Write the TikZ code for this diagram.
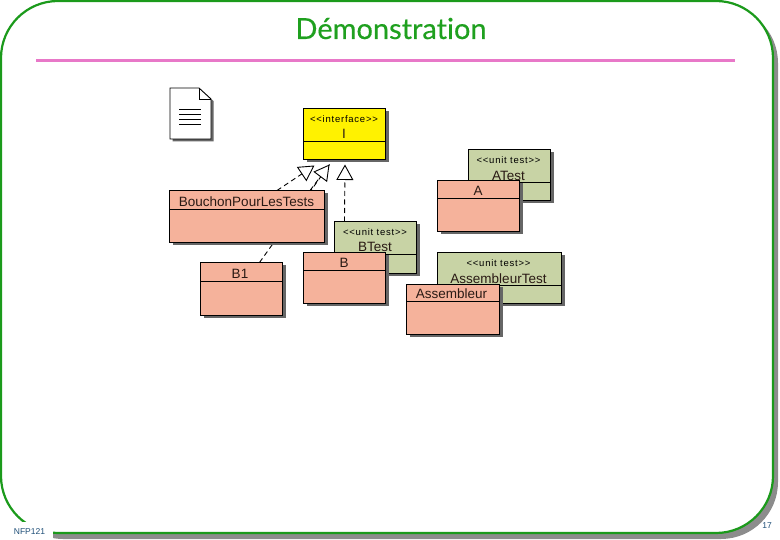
\documentclass[tikz,border=0pt]{standalone}
\usepackage{fontspec}
\setmainfont{Liberation Sans}
\newfontfamily\titlefont[Ligatures=NoCommon,FakeBold=0.35]{Lato}
\newfontfamily\stereofont[LetterSpace=8]{Liberation Sans}
\usetikzlibrary{arrows.meta}
\definecolor{framegreen}{HTML}{1B9A1B}
\definecolor{titlegreen}{HTML}{1FA01F}
\definecolor{rulepink}{HTML}{E878C8}
\definecolor{shadowgray}{HTML}{8C8C8C}
\definecolor{salmon}{HTML}{F5B29B}
\definecolor{olive}{HTML}{C8D3A5}
\definecolor{footblue}{HTML}{1F4F78}
\definecolor{inktext}{HTML}{2A1A14}
\tikzset{
  umlbox/.style={draw=black,line width=1.1pt,inner sep=0pt,outer sep=0pt},
  namelabel/.style={font=\fontsize{13.5}{13.5}\selectfont,text=inktext,inner sep=0pt,anchor=base},
  stereolabel/.style={font=\stereofont\fontsize{9.5}{9.5}\selectfont,text=black,inner sep=0pt,anchor=base},
  footlabel/.style={font=\fontsize{8.5}{9}\selectfont,text=footblue,inner sep=0pt},
  dashwire/.style={black,line width=0.9pt,dash pattern=on 5pt off 3.5pt},
  realize/.style={dashwire,
    -{Triangle[open,fill=white,length=15.5pt,width=17pt,line width=0.9pt]}},
  framepath/.style={rounded corners=57pt},
}
% #1 name, #2 x1, #3 y1, #4 x2, #5 y2, #6 fill, #7 divider y
\newcommand{\classbox}[7]{%
  \fill[black!60] ({#2+3},{#3+3}) rectangle ({#4+3},{#5+3});
  \node[umlbox,fill=#6,minimum width=#4pt-#2pt,minimum height=#5pt-#3pt] (#1) at ({(#2+#4)/2},{(#3+#5)/2}) {};
  \draw[black,line width=1pt] (#2,#7) -- (#4,#7);
}
\begin{document}
\begin{tikzpicture}[x=1pt,y=-1pt]
\useasboundingbox (0,0) rectangle (780,540);
% slide frame
\fill[shadowgray,framepath] (6,6) rectangle (778,539);
\draw[framegreen,line width=2.2pt,fill=white,framepath] (1,1) rectangle (773,533);
\fill[white] (0,522) rectangle (53,540);
\node[footlabel] (foot) at (29.5,531.5) {NFP121};
\node[footlabel] (page) at (767,526) {17};
% title
\node[font=\titlefont\fontsize{29}{29}\selectfont,text=titlegreen,inner sep=0pt,anchor=base] (title) at (391,39) {Démonstration};
\draw[rulepink,line width=3pt] (36,60.5) -- (735,60.5);
% note icon
\fill[black!60] (172.5,90.5) -- (201,90.5) -- (213.5,101) -- (213.5,141.5) -- (172.5,141.5) -- cycle;
\draw[black,line width=0.9pt,fill=white] (170,88) -- (199,88) -- (211,99) -- (211,139) -- (170,139) -- cycle;
\draw[black,line width=0.9pt] (199,88) -- (199,99) -- (211,99);
\draw[black,line width=0.8pt] (179,109.5) -- (201,109.5) (179,114.5) -- (201,114.5) (179,119.5) -- (201,119.5) (179,124.5) -- (201,124.5);
% interface
\classbox{I}{303.5}{108.5}{385.5}{159.5}{yellow}{141.5}
\node[stereolabel] (Is) at (344,122.5) {<{}<interface>{}>};
\node[namelabel] (In) at (344,138.5) {I};
\coordinate (tipA) at ([xshift=-30pt,yshift=-6pt]I.south);
\coordinate (tipB) at ([xshift=-15pt,yshift=-5pt]I.south);
\coordinate (tipC) at ([xshift=0.5pt,yshift=-5pt]I.south);
% tests
\classbox{BT}{334.5}{221.5}{416.5}{273.5}{olive}{254.5}
\node[stereolabel] (BTs) at (375,235.5) {<{}<unit test>{}>};
\node[namelabel] (BTn) at (375,252) {BTest};
\classbox{AT}{468.5}{149.5}{550.5}{200.5}{olive}{182.5}
\node[stereolabel] (ATs) at (508.5,163.5) {<{}<unit test>{}>};
\node[namelabel] (ATn) at (508.5,180.5) {ATest};
\classbox{AST}{437.5}{252.5}{561.5}{303.5}{olive}{285.5}
\node[stereolabel] (ASTs) at (498.5,267) {<{}<unit test>{}>};
\node[namelabel] (ASTn) at (498.5,283.5) {AssembleurTest};
\draw[realize] ([xshift=-31pt]BT.north) -- (tipC);
% B1 and its connector, which runs behind BouchonPourLesTests
\classbox{Bone}{200.5}{262.5}{282.5}{315.5}{salmon}{281.5}
\node[namelabel] (Bonen) at (240,279) {B1};
\draw[dashwire] ([xshift=18pt]Bone.north) -- (tipB);
% Bouchon
\classbox{Bou}{169.5}{190.5}{324.5}{242.5}{salmon}{209.5}
\node[namelabel] (Boun) at (246.5,206.5) {BouchonPourLesTests};
\draw[realize] ([xshift=30pt]Bou.north) -- (tipA);
\draw[realize] ([xshift=63pt]Bou.north) -- (tipB);
% implementation classes
\classbox{B}{303.5}{252.5}{385.5}{303.5}{salmon}{270.5}
\node[namelabel] (Bn) at (344,268) {B};
\classbox{A}{437.5}{180.5}{519.5}{231.5}{salmon}{198.5}
\node[namelabel] (An) at (478,196) {A};
\classbox{AS}{406.5}{284.5}{499.5}{334.5}{salmon}{301.5}
\node[namelabel] (ASn) at (451.5,299) {Assembleur};
\end{tikzpicture}
\end{document}
